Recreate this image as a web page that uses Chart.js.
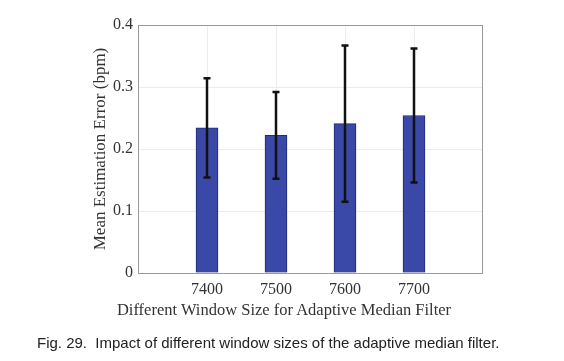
<!DOCTYPE html>
<html>
<head>
<meta charset="utf-8">
<script src="https://cdn.jsdelivr.net/npm/chart.js@4/dist/chart.umd.min.js"></script>
<style>
  html, body { margin: 0; padding: 0; background: #fff; }
  #wrap { position: relative; width: 564px; height: 361px; }
  #xTitle {
    position: absolute; left: 0; width: 568px; top: 300px;
    text-align: center; font-family: 'Liberation Serif', serif; font-size: 16.5px; color: #333;
  }
  #caption {
    position: absolute; left: 37px; top: 334px;
    font-family: 'Liberation Sans', sans-serif; font-size: 15px; color: #222; white-space: pre;
  }
</style>
</head>
<body>
<div id="wrap">
  <canvas id="myChart" width="564" height="361"></canvas>
  <div id="xTitle">Different Window Size for Adaptive Median Filter</div>
  <div id="caption">Fig. 29.  Impact of different window sizes of the adaptive median filter.</div>
</div>
<script>
// 데이터
const windowSizes = [7400, 7500, 7600, 7700];
const meanErrors = [0.234, 0.222, 0.241, 0.254];
const errUpper = [0.314, 0.292, 0.367, 0.362];
const errLower = [0.154, 0.152, 0.115, 0.146];
const yTicks = [0, 0.1, 0.2, 0.3, 0.4];

window.addEventListener('DOMContentLoaded', () => {

    // 에러바 + 박스 테두리
    const errorBarPlugin = {
        id: 'errorBars',
        afterDatasetsDraw(chart) {
            const { ctx, scales: { x, y } } = chart;
            ctx.save();
            ctx.strokeStyle = '#111';
            ctx.lineWidth = 2.5;
            windowSizes.forEach((w, i) => {
                const px = x.getPixelForValue(w);
                const top = y.getPixelForValue(errUpper[i]);
                const bot = y.getPixelForValue(errLower[i]);
                ctx.beginPath();
                ctx.moveTo(px, top);
                ctx.lineTo(px, bot);
                ctx.moveTo(px - 3.5, top);
                ctx.lineTo(px + 3.5, top);
                ctx.moveTo(px - 3.5, bot);
                ctx.lineTo(px + 3.5, bot);
                ctx.stroke();
            });
            const a = chart.chartArea;
            ctx.strokeStyle = '#9a9a9a';
            ctx.lineWidth = 1;
            ctx.strokeRect(a.left + 0.5, a.top + 0.5, a.right - a.left - 1, a.bottom - a.top);
            ctx.restore();
        }
    };

    const tickFont = { family: "'Liberation Serif', serif", size: 16 };

    const config = {
        type: 'bar',
        data: {
            datasets: [{
                data: windowSizes.map((w, i) => ({ x: w, y: meanErrors[i] })),
                backgroundColor: '#3a48a8',
                borderColor: '#1f2a70',
                borderWidth: 1,
                barThickness: 22,
            }],
        },
        options: {
            responsive: false,
            animation: false,
            layout: { padding: { left: 86, right: 81, top: 25, bottom: 58 } },
            plugins: { legend: false, tooltip: false },
            scales: {
                x: {
                    type: 'linear',
                    min: 7300,
                    max: 7800,
                    offset: false,
                    afterFit: (s) => { s.height = 30; },
                    afterBuildTicks: (s) => { s.ticks = windowSizes.map(v => ({ value: v })); },
                    grid: { color: '#ececec', drawTicks: false, offset: false },
                    border: { display: false },
                    ticks: { color: '#333', font: tickFont, padding: 7, callback: (v) => String(v) },
                },
                y: {
                    min: 0,
                    max: 0.4,
                    afterFit: (s) => { s.width = 52; },
                    afterBuildTicks: (s) => { s.ticks = yTicks.map(v => ({ value: v })); },
                    grid: { color: '#ececec', drawTicks: false },
                    border: { display: false },
                    ticks: {
                        color: '#333', font: tickFont, padding: 5,
                        callback: (v) => v === 0 ? '0' : v.toFixed(1),
                    },
                    title: {
                        display: true,
                        text: 'Mean Estimation Error (bpm)',
                        color: '#333',
                        font: { family: "'Liberation Serif', serif", size: 17 },
                    },
                },
            },
        },
        plugins: [errorBarPlugin],
    };

    const myChart = new Chart(document.getElementById('myChart'), config);
});
</script>
</body>
</html>
